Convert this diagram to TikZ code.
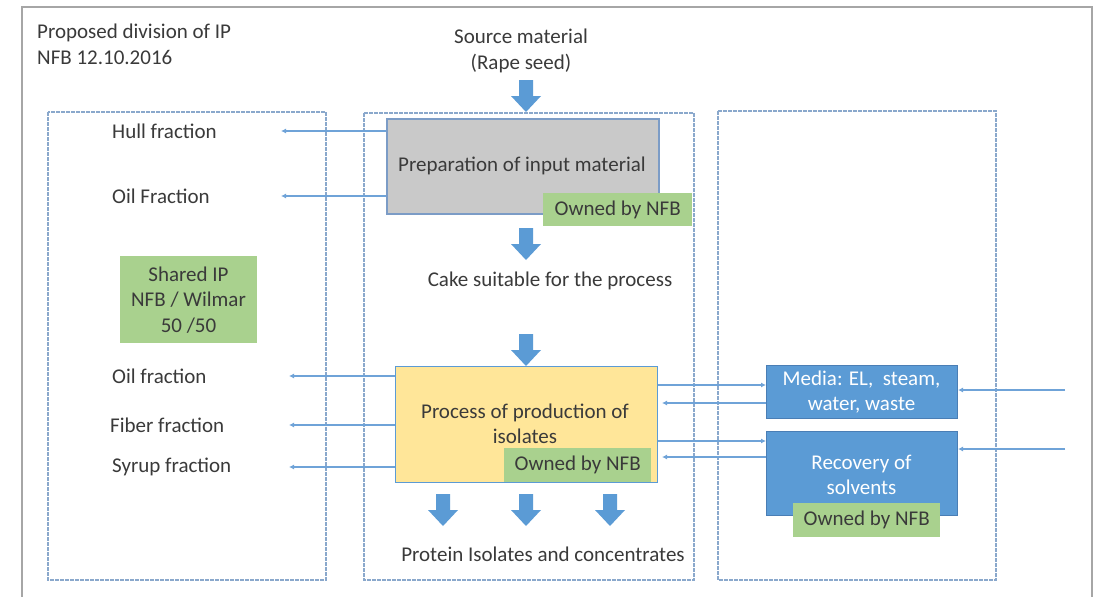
\documentclass[tikz,border=0pt]{standalone}
\usepackage{fontspec}
\setmainfont{Carlito}
\usetikzlibrary{arrows.meta}
\definecolor{txt}{HTML}{3A3A3A}
\definecolor{frameg}{HTML}{A6A6A6}
\definecolor{dotb}{HTML}{8AA8CC}
\definecolor{lineb}{HTML}{6FA3D8}
\definecolor{fatb}{HTML}{5B9BD5}
\definecolor{boxb}{HTML}{5B9BD5}
\definecolor{boxbd}{HTML}{4A7EB5}
\definecolor{grayb}{HTML}{7C9CC6}
\definecolor{greenf}{HTML}{A9D18E}
\definecolor{yellowf}{HTML}{FFE699}
\definecolor{grayf}{HTML}{C9C9C9}
\begin{document}
\begin{tikzpicture}[x=1pt,y=-1pt,
  every node/.style={font=\fontsize{21}{25.5}\selectfont, text=txt, inner sep=0pt},
  region/.style={draw=dotb, line width=1.1pt, dash pattern=on 4pt off 1pt},
  lbl/.style={anchor=west},
  conn/.style={draw=lineb, line width=1.1pt, -{Latex[length=5pt,width=5pt]}},
  owned/.style={fill=greenf, minimum width=149pt, minimum height=33pt, anchor=north west},
  fatarr/.pic={\fill[fatb] (-7,0) -- (7,0) -- (7,16) -- (15,16) -- (0,32) -- (-15,16) -- (-7,16) -- cycle;}
]
\useasboundingbox (0,0) rectangle (1095,597);
\fill[white] (0,0) rectangle (1095,597);
% outer frame
\draw[frameg, line width=1.5pt] (22,600) -- (22,7) -- (1092,7) -- (1092,600);

% title
\node[anchor=north west, align=left] (title) at (37,24) {Proposed division of IP\\NFB 12.10.2016};
\node[align=center] (source) at (521,51) {Source material\\(Rape seed)};

% dotted regions
\draw[region] (48,112) rectangle (326,580);
\draw[region] (364,113) rectangle (694,580);
\draw[region] (718,111) rectangle (996,580);

% gray preparation box
\node[draw=grayb, line width=1.5pt, fill=grayf, minimum width=272pt, minimum height=95pt, anchor=north west] (prep) at (386,118) {};
\node (preptxt) at (522,166) {Preparation of input material};
\node[owned] (own1) at (543,193) {Owned by NFB};

\node (cake) at (550,281) {Cake suitable for the process};

% yellow process box
\node[draw=boxb, line width=1.2pt, fill=yellowf, minimum width=262pt, minimum height=116pt, anchor=north west] (proc) at (395,366) {};
\node[align=center] (proctxt) at (525,424) {Process of production of\\isolates};
\node[owned, minimum width=147pt, minimum height=34pt] (own2) at (504,448) {Owned by NFB};

\node (protein) at (543,554) {Protein Isolates and concentrates};

% fat arrows
\pic at (526,80) {fatarr};
\pic at (526,228) {fatarr};
\pic at (526,334) {fatarr};
\pic at (443,494) {fatarr};
\pic at (526,494) {fatarr};
\pic at (610,494) {fatarr};

% left labels
\node[lbl] (hull) at (112,131) {Hull fraction};
\node[lbl] (oil1) at (112,196) {Oil Fraction};
\node[fill=greenf, minimum width=137pt, minimum height=87pt, anchor=north west] (shared) at (120,256) {};
\node[align=center] (sharedtxt) at (188.5,300) {Shared IP\\NFB / Wilmar\\50 /50};
\node[lbl] (oil2) at (112,376) {Oil fraction};
\node[lbl] (fiber) at (110,425) {Fiber fraction};
\node[lbl] (syrup) at (112,467) {Syrup fraction};

\coordinate (ehull) at (281,131);
\coordinate (eoil1) at (281,196);
\coordinate (eoil2) at (289,376);
\coordinate (efiber) at (289,425);
\coordinate (esyrup) at (289,467);
\draw[conn] (prep.west |- ehull) -- (ehull);
\draw[conn] (prep.west |- eoil1) -- (eoil1);
\draw[conn] (proc.west |- eoil2) -- (eoil2);
\draw[conn] (proc.west |- efiber) -- (efiber);
\draw[conn] (proc.west |- esyrup) -- (esyrup);

% right boxes
\node[draw=boxbd, line width=1pt, fill=boxb, minimum width=191pt, minimum height=53pt, anchor=north west] (media) at (766,365) {};
\node[align=center, text=white] (mediatxt) at (861.5,392) {Media: EL,\ \ steam,\\water, waste};
\node[draw=boxbd, line width=1pt, fill=boxb, minimum width=191pt, minimum height=84pt, anchor=north west] (recov) at (766,431) {};
\node[align=center, text=white] (recovtxt) at (861.5,475) {Recovery of\\solvents};
\node[owned, minimum width=147pt, minimum height=34pt] (own3) at (793,503) {Owned by NFB};

\coordinate (rin1) at (1065,390);
\coordinate (rin2) at (1065,449);
\coordinate (pret1) at (662,403);
\coordinate (pret2) at (662,457);
\draw[conn] (proc.east |- 0,385) -- (media.west |- 0,385);
\draw[conn] (media.west |- pret1) -- (pret1);
\draw[conn] (proc.east |- 0,441) -- (recov.west |- 0,441);
\draw[conn] (recov.west |- pret2) -- (pret2);
\draw[conn] (rin1) -- (media.east |- rin1);
\draw[conn] (rin2) -- (recov.east |- rin2);
\end{tikzpicture}
\end{document}
